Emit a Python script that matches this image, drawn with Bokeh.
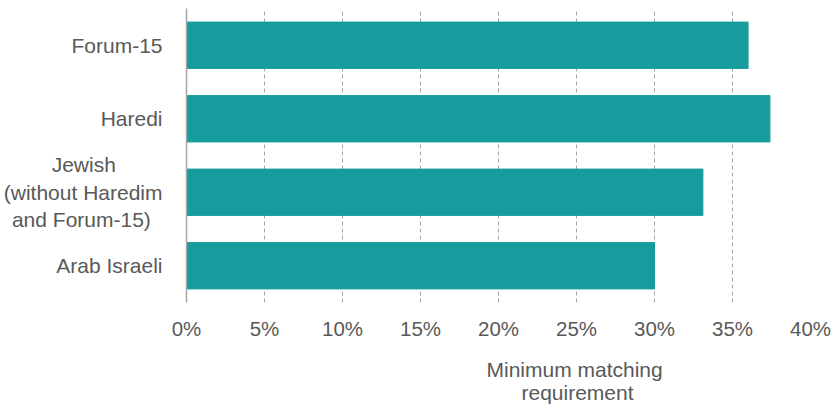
from bokeh.plotting import figure
from bokeh.models import FactorRange, Range1d, FixedTicker, NumeralTickFormatter, Title, CustomJSTickFormatter
from bokeh.embed import file_html
from bokeh.resources import INLINE

categories = ["Forum-15", "Haredi", "Jewish\n(without Haredim\nand Forum-15)", "Arab Israeli"]
values = [0.36, 0.374, 0.331, 0.300]
tick_values = [0, 0.05, 0.10, 0.15, 0.20, 0.25, 0.30, 0.35, 0.40]
axis_title = ["Minimum matching", "requirement"]

FONT = "Liberation Sans"
TXT = "#595959"
BAR = "#169C9C"

factors = categories[::-1]
p = figure(width=834, height=406, output_backend="svg", toolbar_location=None,
           y_range=FactorRange(factors=factors, range_padding=0),
           x_range=Range1d(0, 0.40),
           min_border_left=186, min_border_right=24, min_border_top=8, min_border_bottom=104)
p.outline_line_color = None

p.hbar(y=categories, right=values, left=0, height=0.63, color=BAR)

p.xaxis.ticker = FixedTicker(ticks=tick_values)
p.xaxis.formatter = NumeralTickFormatter(format="0%")
p.xaxis.axis_line_color = None
p.xaxis.major_tick_line_color = None
p.xaxis.minor_tick_line_color = None
p.xaxis.major_label_text_font = FONT
p.xaxis.major_label_text_font_size = "20.5px"
p.xaxis.major_label_text_color = TXT
p.xaxis.major_label_standoff = 8

p.yaxis.axis_line_color = "#A6A6A6"
p.yaxis.axis_line_width = 1.5
p.yaxis.major_tick_line_color = None
p.yaxis.minor_tick_line_color = None
p.yaxis.major_label_text_font = FONT
p.yaxis.major_label_text_font_size = "21px"
p.yaxis.major_label_text_color = TXT
p.yaxis.major_label_standoff = 18
# centre the lines of a multi-line category label within its block
p.yaxis.formatter = CustomJSTickFormatter(code="""
const lines = tick.split('\\n');
if (lines.length < 2) return tick;
const ctx = document.createElement('canvas').getContext('2d');
ctx.font = '21px "Liberation Sans"';
const w = lines.map(l => ctx.measureText(l).width);
const maxw = Math.max(...w);
const sp = ctx.measureText('\\u00a0').width;
return lines.map((l, i) => l + '\\u00a0'.repeat(Math.round((maxw - w[i]) / 2 / sp))).join('\\n');
""")

p.ygrid.grid_line_color = None
p.xgrid.grid_line_color = "#A6A6A6"
p.xgrid.grid_line_dash = "4 3"
p.xgrid.grid_line_width = 1

offsets = [300, 335]
standoffs = [26, -26]
valigns = ["bottom", "top"]
for t, off, so, va in zip(axis_title, offsets, standoffs, valigns):
    p.add_layout(Title(text=t, align="left", offset=off, standoff=so, vertical_align=va,
                       text_font=FONT, text_font_size="21px", text_font_style="normal",
                       text_color=TXT), "below")

open("out.html", "w").write(file_html(p, INLINE))
